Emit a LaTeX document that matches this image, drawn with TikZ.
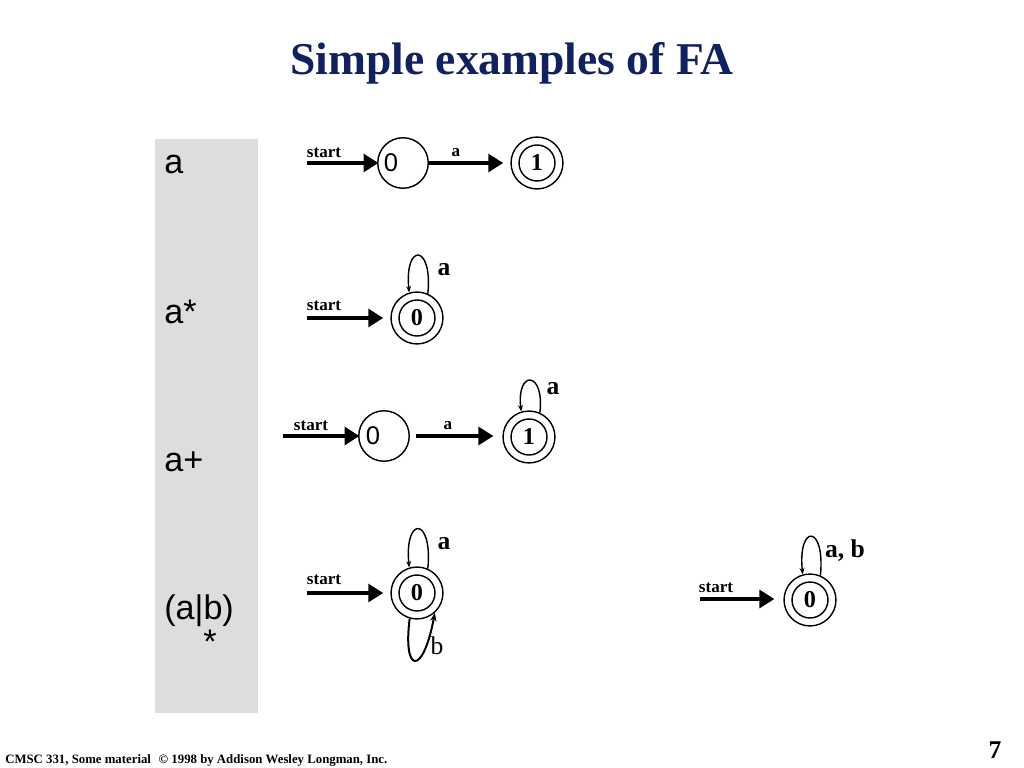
\documentclass[tikz,border=0pt]{standalone}
\usepackage{fontspec}
\setmainfont{Liberation Serif}
\newfontfamily\arialfont{Liberation Sans}
\usetikzlibrary{arrows.meta}
\definecolor{titleblue}{RGB}{16,32,96}
\definecolor{panelgray}{RGB}{221,221,221}
\begin{document}
\begin{tikzpicture}[x=0.703125pt,y=-0.703125pt,
  thickarrow/.style={line width=2.5pt,-{Triangle[length=10.5pt,width=12.5pt]}},
  plainstate/.style={circle,draw,line width=1pt,minimum size=35.5pt,inner sep=0pt},
  outerstate/.style={circle,draw,line width=1pt,minimum size=36.5pt,inner sep=0pt},
  innerstate/.style={circle,draw,line width=1pt,minimum size=25.3pt,inner sep=0pt,font=\bfseries\fontsize{17}{17}\selectfont},
  arialdigit/.style={inner sep=0pt,font=\arialfont\fontsize{18}{18}\selectfont},
  selfloop/.style={line width=1pt,-{Stealth[length=4.5pt,width=3.5pt]}},
  bigloop/.style={line width=1.4pt,-{Stealth[length=6pt,width=4.5pt]}},
  smalllbl/.style={inner sep=0pt,font=\bfseries\fontsize{12}{12}\selectfont},
  biglbl/.style={inner sep=0pt,font=\bfseries\fontsize{18}{18}\selectfont},
  relbl/.style={inner sep=0pt,anchor=base west,font=\arialfont\fontsize{24}{24}\selectfont},
]
\useasboundingbox[fill=white] (0,0) rectangle (1024,768);
% title
\node[inner sep=0pt,anchor=base,text=titleblue,font=\bfseries\fontsize{32}{32}\selectfont] (title) at (512,75) {Simple examples of FA};
% panel
\fill[panelgray] (155,139) rectangle (258,713);
\node[relbl] (r1) at (164,174) {a};
\node[relbl] (r2) at (164,323) {a*};
\node[relbl] (r3) at (164,471) {a+};
\node[relbl] (r4) at (164,619) {(a|b)};
\node[inner sep=0pt,font=\arialfont\fontsize{24}{24}\selectfont] (r4b) at (210,642) {*};

% diagram 1: a
\node[plainstate] (d1s0) at (403,163) {};
\node[arialdigit] (d1s0l) at (391,163) {0};
\node[outerstate] (d1s1) at (537,163) {};
\node[innerstate] (d1s1i) at (537,163) {1};
\coordinate (d1in) at (307,163);
\draw[thickarrow,shorten >=-1pt] (d1in) -- (d1s0.west);
\node[smalllbl] (d1st) at (324,153) {start};
\draw[thickarrow,shorten >=5pt] (d1s0.east) -- (d1s1.west);
\node[smalllbl] (d1a) at (456,153) {a};

% diagram 2: a*
\node[outerstate] (d2s0) at (417,318) {};
\node[innerstate] (d2s0i) at (417,318) {0};
\coordinate (d2in) at (307,318);
\draw[thickarrow,shorten >=5pt] (d2in) -- (d2s0.west);
\node[smalllbl] (d2st) at (324,306) {start};
\draw[selfloop] (d2s0.66) .. controls +(5,-50) and +(-5,-50) .. (d2s0.107);
\node[biglbl] (d2a) at (444,270) {a};

% diagram 3: a+
\node[plainstate] (d3s0) at (384,436) {};
\node[arialdigit] (d3s0l) at (373,436) {0};
\node[outerstate] (d3s1) at (529,437) {};
\node[innerstate] (d3s1i) at (529,437) {1};
\coordinate (d3in) at (283,436);
\draw[thickarrow,shorten >=-1pt] (d3in) -- (d3s0.west);
\node[smalllbl] (d3st) at (311,426) {start};
\draw[thickarrow,shorten <=4pt,shorten >=6.3pt] (d3s0.east) -- (d3s1.west |- d3s0.east);
\node[smalllbl] (d3a) at (448,426) {a};
\draw[selfloop] (d3s1.66) .. controls +(5,-42) and +(-5,-42) .. (d3s1.107);
\node[biglbl] (d3a2) at (553,389) {a};

% diagram 4: (a|b)*
\node[outerstate] (d4s0) at (417,593) {};
\node[innerstate] (d4s0i) at (417,593) {0};
\coordinate (d4in) at (307,593);
\draw[thickarrow,shorten >=5pt] (d4in) -- (d4s0.west);
\node[smalllbl] (d4st) at (324,580) {start};
\draw[selfloop] (d4s0.66) .. controls +(5,-52) and +(-5,-52) .. (d4s0.107);
\node[biglbl] (d4a) at (444,544) {a};
\draw[bigloop] (d4s0.254) .. controls +(-7,55) and +(-12,64) .. (d4s0.312);
\node[inner sep=0pt,font=\fontsize{18}{18}\selectfont] (d4b) at (437,646) {b};

% diagram 5: (a|b)* single state
\node[outerstate] (d5s0) at (810,600) {};
\node[innerstate] (d5s0i) at (810,600) {0};
\coordinate (d5in) at (700,599);
\draw[thickarrow,shorten >=6.3pt] (d5in) -- (d5s0.west |- d5in);
\node[smalllbl] (d5st) at (716,588) {start};
\draw[selfloop] (d5s0.67) .. controls +(5,-51) and +(-5,-51) .. (d5s0.106);
\node[biglbl] (d5a) at (845,551) {a, b};

% footer
\node[inner sep=0pt,anchor=base west,font=\bfseries\fontsize{9}{9}\selectfont] (foot) at (5,763) {CMSC 331, Some material\hspace{0.6em}\textcopyright{} 1998 by Addison Wesley Longman, Inc.};
\node[inner sep=0pt,anchor=base,font=\bfseries\fontsize{18}{18}\selectfont] (pg) at (995,758) {7};
\end{tikzpicture}
\end{document}
